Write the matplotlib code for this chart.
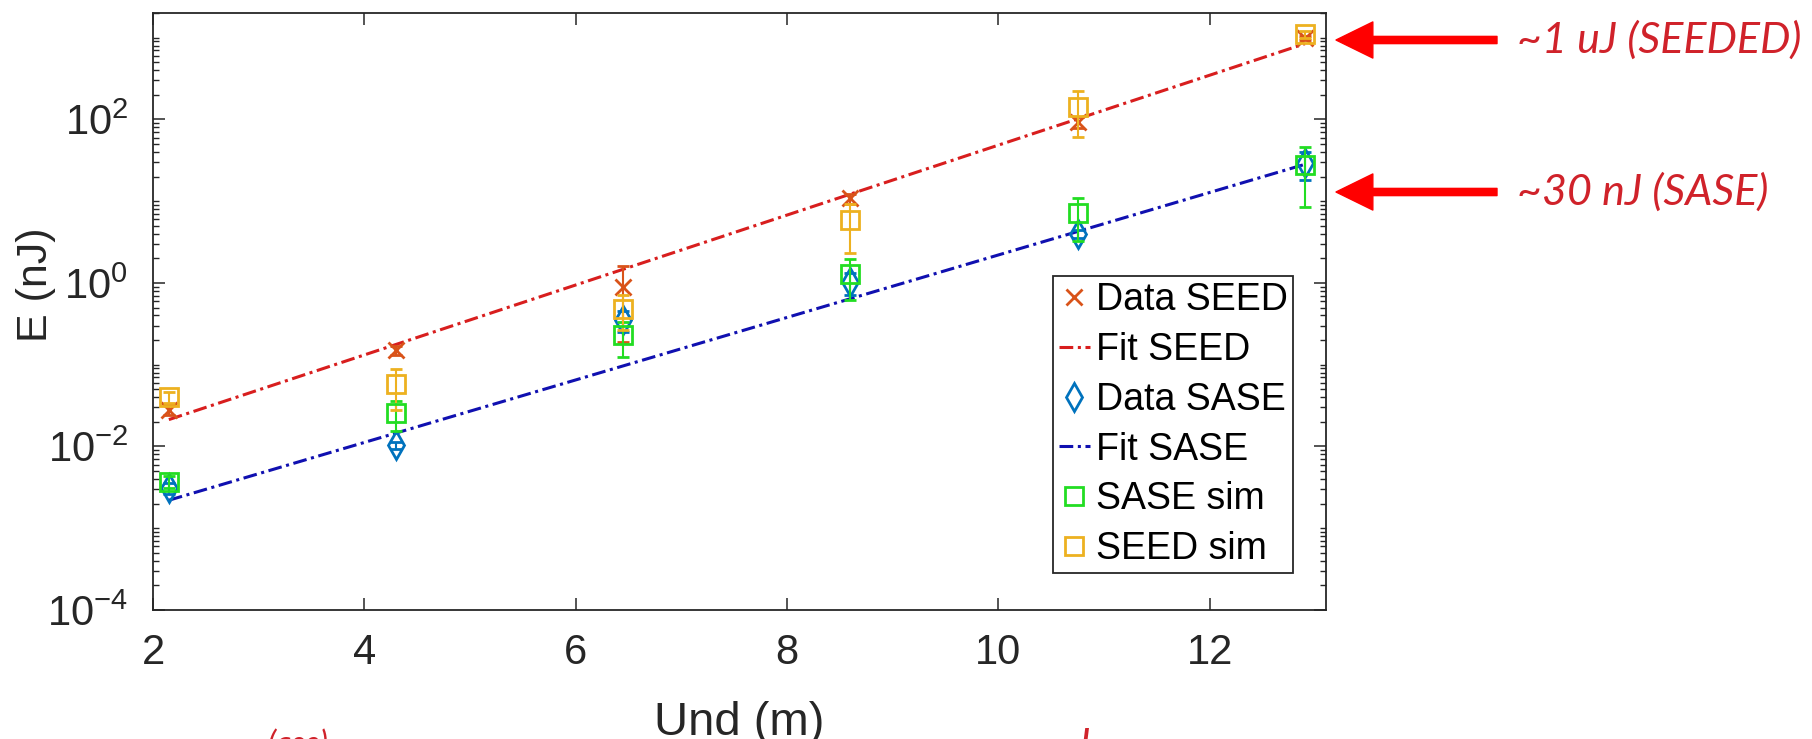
import matplotlib
matplotlib.use("Agg")
import matplotlib.pyplot as plt
from matplotlib.lines import Line2D
from matplotlib.ticker import FixedLocator, NullFormatter
import numpy as np

# ---------------- data ----------------
und_x = [2.15, 4.3, 6.45, 8.6, 10.75, 12.9]

seed_data = [0.028, 0.15, 0.89, 10.8, 93, 1000]
seed_data_err = [0.004, 0.02, 0.7, 1.5, 15, 60]

sase_data = [0.0031, 0.0104, 0.35, 1.02, 4.0, 29]
sase_data_err = [0.0005, 0.001, 0.1, 0.3, 0.5, 11]

sase_sim = [0.0037, 0.0255, 0.229, 1.3, 7.1, 27.5]
sase_sim_err = [0.0006, 0.01, 0.105, 0.68, 3.8, 19]

seed_sim = [0.040, 0.058, 0.485, 5.8, 141, 1100]
seed_sim_err = [0.006, 0.03, 0.22, 3.5, 80, 100]

fit_x = [2.15, 12.9]
seed_fit = [0.0213, 842]
sase_fit = [0.0022, 28.2]

x_ticks = [2, 4, 6, 8, 10, 12]
y_major = [1e-4, 1e-2, 1e0, 1e2]

legend_labels = ["Data SEED", "Fit SEED", "Data SASE", "Fit SASE", "SASE sim", "SEED sim"]
ann_texts = ["~1 uJ (SEEDED)", "~30 nJ (SASE)"]

# ---------------- style ----------------
plt.rcParams['font.family'] = ['Liberation Sans', 'DejaVu Sans']
plt.rcParams['mathtext.fontset'] = 'custom'
plt.rcParams['mathtext.rm'] = 'Liberation Sans'
plt.rcParams['mathtext.it'] = 'Liberation Sans:italic'
plt.rcParams['mathtext.default'] = 'regular'

C_SEED = '#D95319'
C_SASE = '#0072BD'
C_FSEED = '#D81E1E'
C_FSASE = '#1010B0'
C_GSIM = '#22DD22'
C_YSIM = '#EDB120'
C_AX = '#262626'
C_RED_TXT = '#D0222A'

W, H = 1812, 739
fig = plt.figure(figsize=(W / 100, H / 100), dpi=100)
L, R, T, B = 153, 1326, 13, 610
ax = fig.add_axes([L / W, 1 - B / H, (R - L) / W, (B - T) / H])

dash = (0, (4.5, 1.5, 1.0, 1.5))

ax.errorbar(und_x, seed_data, yerr=seed_data_err, fmt='x', color=C_SEED, ms=11, mew=2,
            elinewidth=1.5, capsize=4, capthick=1.5, zorder=3)
ax.plot(fit_x, seed_fit, ls=dash, color=C_FSEED, lw=2.2, zorder=2)
ax.errorbar(und_x, sase_data, yerr=sase_data_err, fmt='d', color=C_SASE, mfc='none', ms=14, mew=2,
            elinewidth=1.5, capsize=4, capthick=1.5, zorder=3)
ax.plot(fit_x, sase_fit, ls=dash, color=C_FSASE, lw=2.2, zorder=2)
ax.errorbar(und_x, sase_sim, yerr=sase_sim_err, fmt='s', color=C_GSIM, mfc='none', ms=13, mew=2,
            elinewidth=1.5, capsize=4, capthick=1.5, zorder=4)
ax.errorbar(und_x, seed_sim, yerr=seed_sim_err, fmt='s', color=C_YSIM, mfc='none', ms=13, mew=2,
            elinewidth=1.5, capsize=4, capthick=1.5, zorder=4)

ax.set_yscale('log')
ax.set_xlim(2, 13.1)
ax.set_ylim(1e-4, 2e3)
ax.set_xticks(x_ticks)
ax.yaxis.set_major_locator(FixedLocator(y_major))
minors = [k * 10.0 ** n for n in range(-4, 4) for k in range(1, 10)
          if not (k == 1 and n % 2 == 0) and k * 10.0 ** n <= 2e3]
ax.yaxis.set_minor_locator(FixedLocator(minors))
ax.yaxis.set_minor_formatter(NullFormatter())

ax.tick_params(which='both', direction='in', top=True, right=True, color=C_AX,
               labelcolor=C_AX, labelsize=30)
ax.tick_params(which='major', length=8.6, width=1.1)
ax.tick_params(which='minor', length=4.3, width=1.0)
ax.tick_params(axis='x', pad=16.5)
ax.tick_params(axis='y', pad=18)
for s in ax.spines.values():
    s.set_color(C_AX)
    s.set_linewidth(1.3)

ax.set_xlabel('Und (m)', fontsize=34, color=C_AX, va='top')
ax.xaxis.set_label_coords(0.5, -0.152)
ax.set_ylabel('E (nJ)', fontsize=31, color=C_AX, va='center')
ax.yaxis.set_label_coords(-0.0995, 0.545)

handles = [
    Line2D([], [], ls='none', marker='x', color=C_SEED, ms=11, mew=2),
    Line2D([], [], ls=dash, color=C_FSEED, lw=2.2),
    Line2D([], [], ls='none', marker='d', color=C_SASE, mfc='none', ms=14, mew=2),
    Line2D([], [], ls=dash, color=C_FSASE, lw=2.2),
    Line2D([], [], ls='none', marker='s', color=C_GSIM, mfc='none', ms=13, mew=2),
    Line2D([], [], ls='none', marker='s', color=C_YSIM, mfc='none', ms=13, mew=2),
]
leg = ax.legend(handles, legend_labels, loc='lower right', bbox_to_anchor=(0.972, 0.062),
                borderaxespad=0, fontsize=27, labelspacing=0.37, handlelength=0.83,
                handletextpad=0.15, borderpad=0.15, fancybox=False, framealpha=1,
                edgecolor=C_AX)
leg.get_frame().set_linewidth(1.3)

# ---------------- annotations (right side) ----------------
arrow_y = [40, 192]
for ty, txt in zip(arrow_y, ann_texts):
    yf = 1 - ty / H
    fig.patches.append(matplotlib.patches.FancyArrowPatch(
        (1497 / W, yf), (1336 / W, yf), transform=fig.transFigure,
        arrowstyle='simple,head_length=1.02,head_width=1.0,tail_width=0.2',
        mutation_scale=26, color='#FF0000', shrinkA=0, shrinkB=0))
    fig.text(1517 / W, yf, txt, fontsize=31, style='italic', color=C_RED_TXT,
             family=['Lato', 'DejaVu Sans'], va='center', ha='left')

# cut-off caption fragments at the bottom edge
fig.text(268 / W, -15 / H, '(ase)', fontsize=23, style='italic', color=C_RED_TXT,
         family=['Lato', 'DejaVu Sans'], va='baseline', ha='left')
fig.text(1080 / W, -20 / H, 'l', fontsize=31, style='italic', color=C_RED_TXT,
         family=['Lato', 'DejaVu Sans'], va='baseline', ha='left')

fig.savefig('out.png', dpi=100, facecolor='white')
